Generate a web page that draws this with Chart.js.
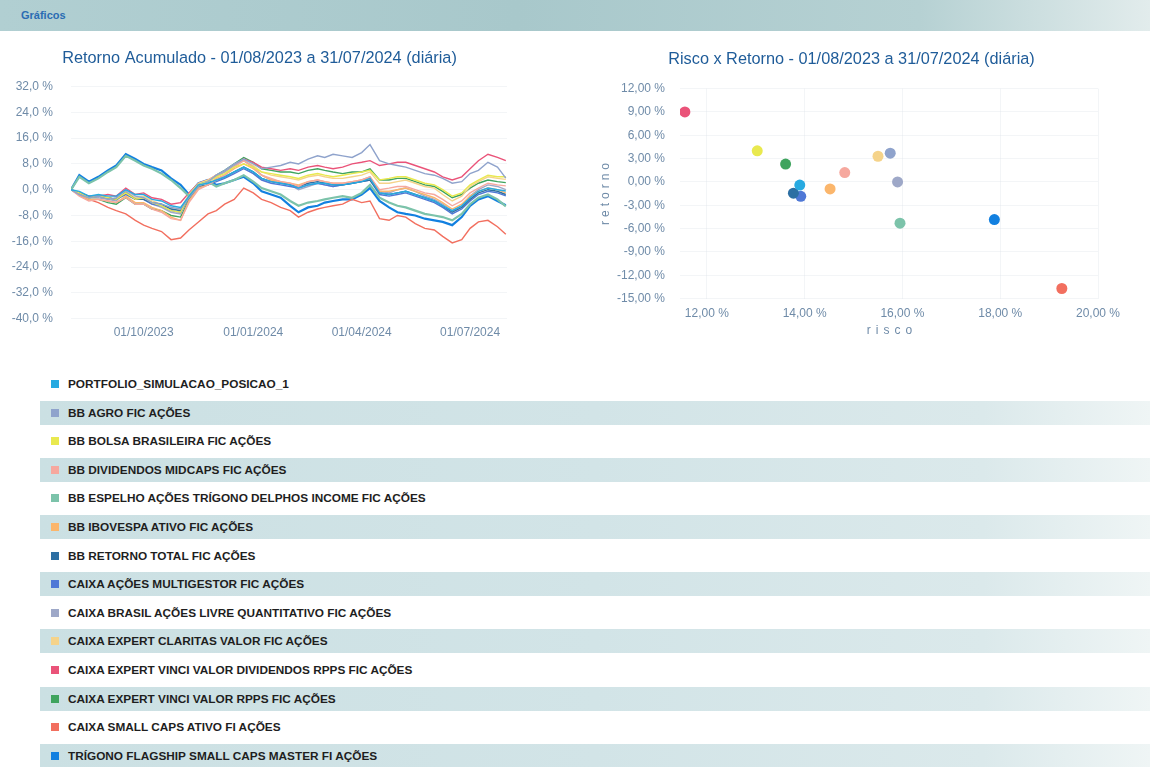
<!DOCTYPE html>
<html lang="pt-BR">
<head>
<meta charset="UTF-8" />
<title>Gráficos</title>
<script src="https://cdn.jsdelivr.net/npm/chart.js"></script>
<style>
  body {
    margin: 0;
    width: 1150px;
    height: 767px;
    background: #fff;
    font-family: "Liberation Sans", Arial, sans-serif;
    position: relative;
    overflow: hidden;
  }
  .header {
    position: absolute;
    left: 0;
    top: 0;
    width: 1150px;
    height: 31px;
    background: linear-gradient(to right, #b1cfd2, #a8c8cb 45%, #b6d1d3 80%, #e2ecec);
  }
  .header span {
    position: absolute;
    left: 21px;
    top: 9px;
    font-size: 11px;
    font-weight: bold;
    color: #2a6cb3;
  }
  .chart-box { position: absolute; }
  .axis-title {
    position: absolute;
    width: 90px;
    height: 14px;
    line-height: 14px;
    text-align: center;
    font-size: 12px;
    color: #6f8ba8;
    letter-spacing: 5px;
    white-space: nowrap;
  }
  .legend-row {
    position: absolute;
    left: 40px;
    width: 1110px;
    height: 24px;
  }
  .legend-row.band {
    background: linear-gradient(to right, #cbe0e3, #d2e4e7 50%, #dbe9eb 85%, #eff5f5);
  }
  .legend-row i {
    position: absolute;
    left: 11px;
    top: 8px;
    width: 8px;
    height: 8px;
  }
  .legend-row span {
    position: absolute;
    left: 28px;
    top: 5px;
    font-size: 11.8px;
    font-weight: bold;
    color: #1e1e1e;
    white-space: nowrap;
  }
</style>
</head>
<body>
<div class="header"><span>Gráficos</span></div>

<div class="chart-box" style="left:0; top:42px; width:520px; height:305px;">
  <canvas id="lineChart"></canvas>
</div>
<div class="chart-box" style="left:590px; top:42px; width:545px; height:305px;">
  <canvas id="scatterChart"></canvas>
</div>
<div class="axis-title" style="left:847px; top:323px;">risco</div>
<div class="axis-title" style="left:560px; top:185px; transform:rotate(-90deg); letter-spacing:4px;">retorno</div>

<div id="legend"></div>

<script>
// fund names and colours (legend order)
const fundNames = [
  "PORTFOLIO_SIMULACAO_POSICAO_1",
  "BB AGRO FIC AÇÕES",
  "BB BOLSA BRASILEIRA FIC AÇÕES",
  "BB DIVIDENDOS MIDCAPS FIC AÇÕES",
  "BB ESPELHO AÇÕES TRÍGONO DELPHOS INCOME FIC AÇÕES",
  "BB IBOVESPA ATIVO FIC AÇÕES",
  "BB RETORNO TOTAL FIC AÇÕES",
  "CAIXA AÇÕES MULTIGESTOR FIC AÇÕES",
  "CAIXA BRASIL AÇÕES LIVRE QUANTITATIVO FIC AÇÕES",
  "CAIXA EXPERT CLARITAS VALOR FIC AÇÕES",
  "CAIXA EXPERT VINCI VALOR DIVIDENDOS RPPS FIC AÇÕES",
  "CAIXA EXPERT VINCI VALOR RPPS FIC AÇÕES",
  "CAIXA SMALL CAPS ATIVO FI AÇÕES",
  "TRÍGONO FLAGSHIP SMALL CAPS MASTER FI AÇÕES"
];
const fundColors = [
  "#27aae1", "#8fa3cc", "#e9e94f", "#f6a89e", "#7cc3aa", "#fbb66c", "#2d6fa3",
  "#4f78d6", "#9ea8c8", "#f5d38a", "#ea5379", "#3fa45e", "#f26f5f", "#1280e0"
];

// dates of the sampled points (accumulated return, %)
const dates = [
  "2023-08-01", "2023-08-08", "2023-08-16", "2023-08-24", "2023-09-01", "2023-09-08", "2023-09-16", "2023-09-24",
  "2023-10-01", "2023-10-08", "2023-10-16", "2023-10-24", "2023-11-01", "2023-11-08", "2023-11-16", "2023-11-24",
  "2023-12-01", "2023-12-08", "2023-12-16", "2023-12-24", "2024-01-01", "2024-01-08", "2024-01-16", "2024-01-24",
  "2024-02-01", "2024-02-08", "2024-02-16", "2024-02-24", "2024-03-01", "2024-03-08", "2024-03-16", "2024-03-24",
  "2024-04-01", "2024-04-08", "2024-04-16", "2024-04-24", "2024-05-01", "2024-05-08", "2024-05-16", "2024-05-24",
  "2024-06-01", "2024-06-08", "2024-06-16", "2024-06-24", "2024-07-01", "2024-07-08", "2024-07-16", "2024-07-24",
  "2024-07-31"
];

const retPortfolio = [0, -0.5, -2.0, -1.5, -2.0, -2.0, 0.0, -1.5, -1.5, -3.0, -3.5, -5.0, -5.5, -2.0, 1.5, 2.0,
  3.0, 4.0, 5.5, 7.0, 5.5, 3.5, 2.5, 2.0, 1.5, 0.5, 1.5, 2.0, 2.0, 1.5, 1.5, 2.0,
  2.5, 3.5, -1.0, -1.5, -1.0, -0.5, -1.5, -2.5, -3.5, -5.0, -6.5, -5.0, -2.5, -0.5, 0.5, 0.0, -0.4];
const retBbAgro = [0, -1.5, -2.5, -2.0, -3.0, -2.5, 0.0, -2.0, -2.5, -4.0, -4.5, -5.5, -6.0, -2.5, 1.0, 2.5,
  4.5, 6.0, 8.0, 9.5, 8.0, 6.5, 7.0, 7.5, 8.5, 8.0, 9.5, 10.5, 10.0, 11.0, 10.5, 10.0,
  11.5, 14.0, 9.0, 8.0, 7.5, 7.0, 6.0, 5.0, 4.5, 3.5, 2.0, 2.5, 5.0, 6.0, 8.5, 7.0, 3.6];
const retBbBolsa = [0, -1.0, -2.5, -2.0, -2.5, -3.0, -1.0, -3.0, -2.5, -4.0, -5.0, -6.5, -7.0, -2.0, 1.5, 2.5,
  4.0, 5.0, 7.0, 8.0, 7.0, 5.5, 5.0, 4.5, 4.0, 3.5, 4.5, 5.0, 4.5, 4.0, 4.5, 5.0,
  5.5, 6.0, 3.0, 3.5, 4.0, 4.0, 3.0, 2.0, 1.5, 0.0, -2.0, -1.0, 1.5, 3.0, 4.5, 4.0, 4.0];
const retBbDividendos = [0, -2.0, -3.5, -3.0, -3.5, -4.0, -2.5, -4.5, -4.5, -6.0, -7.0, -9.0, -9.5, -4.0, 0.0, 1.5,
  3.0, 4.5, 7.0, 9.0, 7.0, 4.5, 3.5, 2.5, 2.0, 1.0, 2.5, 3.0, 2.5, 2.0, 2.0, 2.5,
  3.0, 4.0, 0.0, 0.5, 1.0, 1.0, 0.0, -1.0, -1.5, -3.0, -5.0, -3.5, -1.0, 0.5, 2.0, 1.5, 1.2];
const retBbDelphos = [0, 4.0, 2.0, 3.5, 5.5, 7.0, 10.5, 9.0, 7.5, 6.5, 5.0, 3.0, 0.5, -2.0, 1.5, 2.5,
  1.0, 2.0, 3.0, 4.5, 2.5, 0.5, -0.5, -1.5, -3.5, -5.0, -4.0, -3.5, -3.0, -2.5, -2.0, -2.5,
  -1.0, 1.5, -2.5, -4.0, -5.0, -5.5, -6.5, -7.5, -8.0, -8.5, -9.5, -7.5, -4.5, -2.5, -1.5, -3.0, -5.2];
const retBbIbovespa = [0, -1.5, -3.0, -3.0, -3.5, -4.0, -2.0, -4.0, -4.0, -5.5, -6.5, -8.5, -9.5, -3.5, 0.5, 1.5,
  3.5, 4.5, 6.5, 8.0, 6.5, 4.5, 3.0, 2.5, 2.0, 1.5, 2.5, 3.0, 2.5, 2.0, 2.0, 2.5,
  3.0, 3.5, -0.5, -0.5, 0.0, 0.5, -0.5, -1.5, -2.5, -4.0, -6.0, -4.5, -2.0, -0.5, 0.5, 0.0, -1.0];
const retBbRetornoTotal = [0, -1.0, -2.5, -2.0, -2.5, -3.0, -1.0, -3.0, -3.0, -4.0, -4.5, -6.0, -6.5, -2.5, 1.0, 1.5,
  3.0, 4.0, 5.5, 7.0, 5.5, 3.5, 2.5, 2.0, 1.5, 1.0, 2.0, 2.5, 2.0, 1.5, 1.5, 2.0,
  2.5, 3.0, -1.0, -1.5, -1.0, -0.5, -1.5, -2.5, -3.5, -5.0, -7.0, -5.5, -3.0, -1.0, 0.0, -0.5, -1.5];
const retCaixaMultigestor = [0, -1.0, -2.0, -2.0, -2.5, -3.0, -1.5, -3.0, -3.0, -4.5, -5.0, -6.5, -7.0, -2.5, 0.5, 1.5,
  2.5, 3.5, 5.0, 6.5, 5.0, 3.0, 2.0, 1.5, 1.0, 0.5, 1.5, 2.0, 1.5, 1.0, 1.5, 2.0,
  2.5, 3.0, -1.5, -2.0, -1.5, -1.0, -2.0, -3.0, -4.0, -5.5, -7.5, -6.0, -3.5, -1.5, -0.5, -1.0, -1.9];
const retCaixaQuant = [0, -1.5, -2.5, -2.5, -3.0, -3.5, -0.5, -3.0, -3.0, -4.5, -5.5, -7.0, -7.5, -2.5, 1.5, 2.5,
  4.0, 5.5, 7.5, 9.0, 7.0, 4.5, 3.0, 2.5, 1.5, 0.0, 1.0, 2.0, 1.5, 1.0, 1.5, 2.0,
  3.0, 4.0, -0.5, -1.0, 0.0, 0.5, -0.5, -2.0, -3.0, -4.5, -6.5, -5.0, -2.0, 0.0, 1.5, 1.0, 0.0];
const retCaixaClaritas = [0, -1.0, -2.5, -2.0, -2.5, -3.0, -0.5, -2.5, -2.0, -3.5, -4.5, -6.0, -6.0, -1.5, 2.0, 3.0,
  4.5, 5.5, 7.5, 9.0, 7.5, 5.5, 4.5, 4.0, 3.5, 3.0, 4.0, 4.5, 4.0, 3.5, 3.5, 4.0,
  4.5, 5.5, 2.0, 2.0, 2.5, 3.0, 2.0, 1.0, 0.5, -1.5, -3.5, -2.0, 1.0, 2.5, 4.0, 3.5, 3.2];
const retVinciDividendos = [0, -1.0, -2.0, -2.0, -1.5, -2.0, 0.5, -1.5, -1.0, -2.5, -3.0, -4.5, -4.0, -1.0, 2.0, 3.0,
  4.5, 5.5, 7.5, 9.5, 8.5, 7.0, 6.5, 6.0, 6.5, 6.0, 7.0, 7.5, 7.0, 6.5, 7.0, 8.0,
  8.5, 9.0, 7.5, 8.0, 8.5, 8.5, 7.5, 6.5, 5.5, 4.0, 3.0, 4.0, 6.5, 9.0, 11.0, 10.0, 9.0];
const retVinciValor = [0, -1.5, -3.0, -3.0, -4.0, -4.5, -2.5, -4.5, -4.5, -6.0, -6.5, -8.0, -8.5, -3.0, 1.0, 2.5,
  4.5, 6.0, 8.0, 10.0, 8.5, 6.5, 6.0, 5.5, 5.5, 5.0, 6.0, 6.5, 6.0, 5.5, 5.0, 5.5,
  5.5, 6.5, 3.0, 3.0, 3.5, 3.5, 2.5, 1.5, 1.0, -0.5, -2.5, -1.5, 0.5, 2.0, 3.0, 2.5, 2.2];
const retCaixaSmallCaps = [0, -1.5, -3.0, -4.0, -5.5, -6.5, -7.5, -9.5, -11.0, -12.0, -13.0, -15.5, -15.0, -12.5, -10.0, -7.5,
  -6.5, -4.5, -3.0, 0.5, -1.0, -3.0, -4.0, -5.5, -6.5, -8.5, -7.0, -6.0, -5.5, -5.0, -4.5, -3.0,
  -4.0, -3.5, -9.0, -9.5, -8.0, -8.5, -10.5, -12.0, -12.5, -14.5, -16.5, -15.5, -12.0, -10.0, -9.5, -11.5, -13.8];
const retTrigonoFlagship = [0, 4.5, 2.5, 4.0, 6.0, 7.5, 11.0, 9.5, 8.0, 7.0, 6.0, 3.5, 1.5, -1.5, 2.0, 3.0,
  1.5, 2.0, 3.0, 4.0, 2.0, -0.5, -1.5, -2.5, -5.0, -7.0, -5.5, -5.0, -4.0, -3.5, -3.0, -3.0,
  -1.5, 0.5, -3.5, -5.5, -7.0, -7.5, -8.0, -9.0, -9.5, -10.0, -11.0, -8.5, -5.0, -3.0, -2.0, -3.5, -4.8];

const lineSeries = [
  retPortfolio, retBbAgro, retBbBolsa, retBbDividendos, retBbDelphos, retBbIbovespa, retBbRetornoTotal,
  retCaixaMultigestor, retCaixaQuant, retCaixaClaritas, retVinciDividendos, retVinciValor,
  retCaixaSmallCaps, retTrigonoFlagship
];

// risk x return (%), same order as fundNames
const riskValues = [13.9, 15.75, 13.03, 14.82, 15.95, 14.52, 13.77, 13.92, 15.9, 15.5, 11.55, 13.61, 19.26, 17.88];
const returnValues = [-0.4, 3.7, 4.0, 1.2, -5.3, -0.9, -1.45, -1.85, 0.0, 3.3, 9.0, 2.3, -13.7, -4.84];

// tick labels
const lineYTicks = [-40, -32, -24, -16, -8, 0, 8, 16, 24, 32];
const lineXTickDates = ["2023-10-01", "2024-01-01", "2024-04-01", "2024-07-01"];
const scatterYTicks = [-15, -12, -9, -6, -3, 0, 3, 6, 9, 12];
const scatterXTicks = [12, 14, 16, 18, 20];

const startDay = Date.UTC(2023, 7, 1);
function dayIndex(s) {
  const p = s.split("-").map(Number);
  return (Date.UTC(p[0], p[1] - 1, p[2]) - startDay) / 86400000;
}
function fmtDate(day) {
  const d = new Date(startDay + day * 86400000);
  const dd = String(d.getUTCDate()).padStart(2, "0");
  const mm = String(d.getUTCMonth() + 1).padStart(2, "0");
  return dd + "/" + mm + "/" + d.getUTCFullYear();
}
const pct = (digits) => (v) => v.toFixed(digits).replace(".", ",") + " %";

const tickColor = "#6f8ba8";
const gridColor = "rgba(215, 222, 230, 0.3)";
const tickFont = { family: "Liberation Sans", size: 12 };
const titleStyle = { family: "Liberation Sans", size: 16.3, weight: "normal" };

// legend list
const legend = document.getElementById("legend");
fundNames.forEach((name, i) => {
  const row = document.createElement("div");
  row.className = "legend-row" + (i % 2 === 1 ? " band" : "");
  row.style.top = (372 + i * 28.6) + "px";
  row.innerHTML = '<i style="background:' + fundColors[i] + '"></i><span>' + name + "</span>";
  legend.appendChild(row);
});

new Chart(document.getElementById("lineChart"), {
  type: "line",
  data: {
    datasets: lineSeries.map((vals, i) => ({
      label: fundNames[i],
      data: vals.map((v, j) => ({ x: dayIndex(dates[j]), y: v })),
      borderColor: fundColors[i],
      backgroundColor: fundColors[i],
      borderWidth: i === 13 || i === 4 ? 2.2 : 1.4,
      pointRadius: 0,
      tension: 0,
    })),
  },
  options: {
    responsive: true,
    maintainAspectRatio: false,
    animation: false,
    layout: { padding: { left: 12, right: 13, bottom: 0 } },
    plugins: {
      legend: { display: false },
      tooltip: { enabled: false },
      title: {
        display: true,
        text: "Retorno Acumulado - 01/08/2023 a 31/07/2024 (diária)",
        color: "#1f5c99",
        font: titleStyle,
        padding: { top: 7, bottom: 18 },
      },
    },
    scales: {
      x: {
        type: "linear",
        min: 0,
        max: 366,
        afterBuildTicks: (axis) => {
          axis.ticks = lineXTickDates.map((d) => ({ value: dayIndex(d) }));
        },
        ticks: { color: tickColor, font: tickFont, padding: 7, maxRotation: 0, callback: (v) => fmtDate(v) },
        grid: { display: false, drawTicks: false },
        border: { display: false },
      },
      y: {
        min: -40,
        max: 32,
        afterBuildTicks: (axis) => {
          axis.ticks = lineYTicks.map((v) => ({ value: v }));
        },
        afterFit: (axis) => { axis.width = 59; },
        ticks: { color: tickColor, font: tickFont, padding: 18, callback: pct(1) },
        grid: { color: gridColor, drawTicks: false },
        border: { display: false },
      },
    },
  },
});

new Chart(document.getElementById("scatterChart"), {
  type: "scatter",
  data: {
    datasets: fundNames.map((name, i) => ({
      label: name,
      data: [{ x: riskValues[i], y: returnValues[i] }],
      backgroundColor: fundColors[i],
      borderWidth: 0,
      pointRadius: 5.5,
    })),
  },
  options: {
    responsive: true,
    maintainAspectRatio: false,
    animation: false,
    layout: { padding: { left: 15, right: 37, bottom: 18 } },
    plugins: {
      legend: { display: false },
      tooltip: { enabled: false },
      title: {
        display: true,
        text: "Risco x Retorno - 01/08/2023 a 31/07/2024 (diária)",
        color: "#1f5c99",
        font: titleStyle,
        padding: { top: 8, bottom: 19 },
      },
    },
    scales: {
      x: {
        type: "linear",
        min: 11.45,
        max: 20,
        afterBuildTicks: (axis) => {
          axis.ticks = scatterXTicks.map((v) => ({ value: v }));
        },
        ticks: { color: tickColor, font: tickFont, padding: 8, maxRotation: 0, callback: pct(2) },
        grid: { color: gridColor, drawTicks: false },
        border: { display: false },
      },
      y: {
        min: -15,
        max: 12,
        afterBuildTicks: (axis) => {
          axis.ticks = scatterYTicks.map((v) => ({ value: v }));
        },
        afterFit: (axis) => { axis.width = 75; },
        ticks: { color: tickColor, font: tickFont, padding: 15, callback: pct(2) },
        grid: { color: gridColor, drawTicks: false },
        border: { display: false },
      },
    },
  },
});
</script>
</body>
</html>
